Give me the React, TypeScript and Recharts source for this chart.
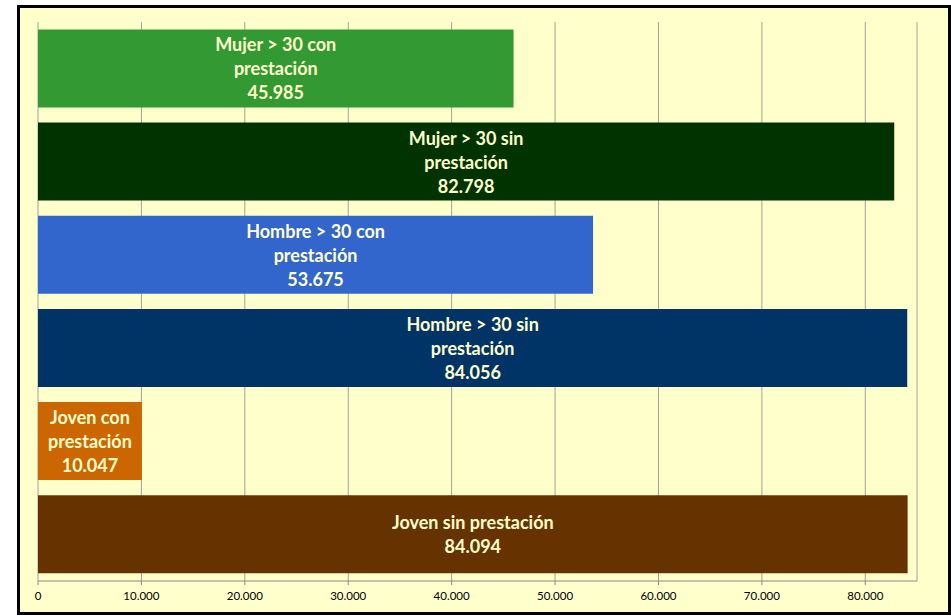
import React from "react";
import {
  BarChart,
  Bar,
  XAxis,
  YAxis,
  CartesianGrid,
  Cell,
  LabelList,
} from "recharts";

// categories, top to bottom as drawn
const categories = [
  "Mujer > 30 con prestación",
  "Mujer > 30 sin prestación",
  "Hombre > 30 con prestación",
  "Hombre > 30 sin prestación",
  "Joven con prestación",
  "Joven sin prestación",
];

// how the label of each bar wraps
const labelLines = [
  ["Mujer > 30 con", "prestación"],
  ["Mujer > 30 sin", "prestación"],
  ["Hombre > 30 con", "prestación"],
  ["Hombre > 30 sin", "prestación"],
  ["Joven con", "prestación"],
  ["Joven sin prestación"],
];

const values = [45985, 82798, 53675, 84056, 10047, 84094];

const barColors = [
  "#339933",
  "#003300",
  "#3366CC",
  "#003366",
  "#CC6600",
  "#663300",
];

const xTicks = [0, 10000, 20000, 30000, 40000, 50000, 60000, 70000, 80000];

const chartData = categories.map((name, i) => ({
  name,
  value: values[i],
  lines: labelLines[i],
  color: barColors[i],
}));

const fmt = (v: number) =>
  String(v).replace(/\B(?=(\d{3})+(?!\d))/g, ".");

const BarLabel = (props: any) => {
  const { x, y, width, height, index } = props;
  const lines = [...chartData[index].lines, fmt(chartData[index].value)];
  const lh = 24;
  const cx = x + width / 2;
  const startY = y + height / 2 - ((lines.length - 1) * lh) / 2;
  return (
    <text
      x={cx}
      y={startY}
      fill="#FFFFCC"
      textAnchor="middle"
      dominantBaseline="central"
      fontSize={18}
      fontWeight="bold"
      fontFamily="Lato, 'Open Sans', sans-serif"
    >
      {lines.map((l, i) => (
        <tspan key={i} x={cx} y={startY + i * lh}>
          {l}
        </tspan>
      ))}
    </text>
  );
};

const App: React.FC = () => {
  return (
    <div
      style={{
        position: "absolute",
        left: 17,
        top: 5,
        width: 934,
        height: 610,
        border: "3px solid #000",
        boxSizing: "border-box",
        background: "#FFFFCC",
      }}
    >
      <BarChart
        width={928}
        height={604}
        data={chartData}
        layout="vertical"
        margin={{ top: 14, right: 31, left: 18, bottom: 0 }}
        barCategoryGap="8%"
      >
        <CartesianGrid
          horizontal={false}
          vertical={true}
          stroke="#A0A0A0"
          strokeWidth={1}
        />
        <XAxis
          type="number"
          domain={[0, 85000]}
          ticks={xTicks}
          tickFormatter={fmt}
          allowDataOverflow
          height={31}
          axisLine={{ stroke: "#888888" }}
          tickLine={{ stroke: "#888888" }}
          tickSize={4}
          tickMargin={7}
          tick={{
            fontSize: 11.5,
            fill: "#000",
            fontFamily: "Lato, 'Open Sans', sans-serif",
          }}
        />
        <YAxis type="category" dataKey="name" hide />
        <Bar dataKey="value" isAnimationActive={false}>
          {chartData.map((d, i) => (
            <Cell key={`cell-${i}`} fill={d.color} />
          ))}
          <LabelList dataKey="value" content={<BarLabel />} />
        </Bar>
      </BarChart>
    </div>
  );
};

export default App;
